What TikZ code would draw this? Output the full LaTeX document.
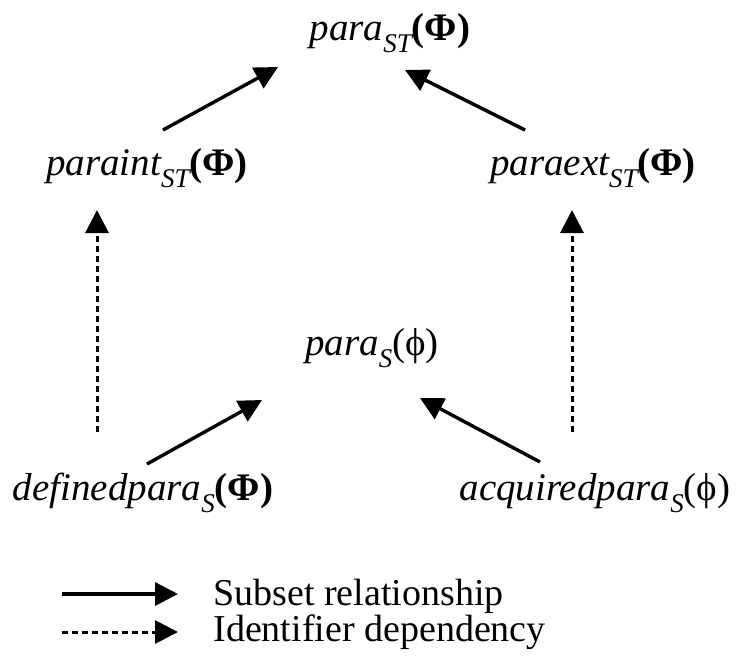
\documentclass[tikz,border=0pt]{standalone}
\usepackage{fontspec}
\setmainfont{Liberation Serif}
\usetikzlibrary{arrows.meta,calc}
% lowered subscript in a smaller size
\newcommand{\lowsub}[1]{\raisebox{-0.32em}{\fontsize{13.5}{13.5}\selectfont #1}}
\newcommand{\bigPhiArg}{\textup{\textbf{(Φ)}}}
\newcommand{\smallPhiArg}{\textup{(ϕ)}}

\begin{document}
\begin{tikzpicture}[x=0.5pt,y=-0.5pt,
  lbl/.style={font=\fontsize{19.5}{22}\selectfont\itshape, inner sep=0pt, anchor=base},
  subset/.style={line width=1.7pt, -{Triangle[length=11.5pt,width=11.5pt]}},
  depend/.style={line width=1.5pt, dash pattern=on 3pt off 2pt, -{Triangle[length=11.5pt,width=11.5pt]}},
  legtext/.style={font=\fontsize{19}{22}\selectfont, inner sep=0pt, anchor=base west}]
\useasboundingbox (0,0) rectangle (739,665);

% sets
\node[lbl] (paraST)  at (390,40)  {para\lowsub{ST}\bigPhiArg};
\node[lbl] (paraint) at (147,175) {paraint\lowsub{ST}\bigPhiArg};
\node[lbl] (paraext) at (593,175) {paraext\lowsub{ST}\bigPhiArg};
\node[lbl] (paraS)   at (372,355) {para\lowsub{S}\smallPhiArg};
\node[lbl] (defined) at (143,500) {definedpara\lowsub{S}\bigPhiArg};
\node[lbl] (acquired) at (595,500) {acquiredpara\lowsub{S}\smallPhiArg};

% subset relationships
\draw[subset] ($(paraint.base)+(16,-45)$) -- ($(paraST.base)+(-112,27)$);
\draw[subset] ($(paraext.base)+(-68,-45)$) -- ($(paraST.base)+(15,30)$);
\draw[subset] ($(defined.base)+(4,-36)$) -- ($(paraS.base)+(-110,45)$);
\draw[subset] ($(acquired.base)+(-55,-38)$) -- ($(paraS.base)+(48,43)$);

% identifier dependencies
\draw[depend] ($(defined.base)+(-46,-68)$) -- ($(paraint.base)+(-50,35)$);
\draw[depend] ($(acquired.base)+(-23,-68)$) -- ($(paraext.base)+(-21,35)$);

% legend
\coordinate (s1) at (62,594);
\coordinate (s2) at (178,594);
\coordinate (d1) at (62,632);
\coordinate (d2) at (178,632);
\draw[subset] (s1) -- (s2);
\draw[depend] (d1) -- (d2);
\node[legtext] (subsettxt) at (213,605) {Subset relationship};
\node[legtext] (dependtxt) at (213,641) {Identifier dependency};
\end{tikzpicture}
\end{document}
